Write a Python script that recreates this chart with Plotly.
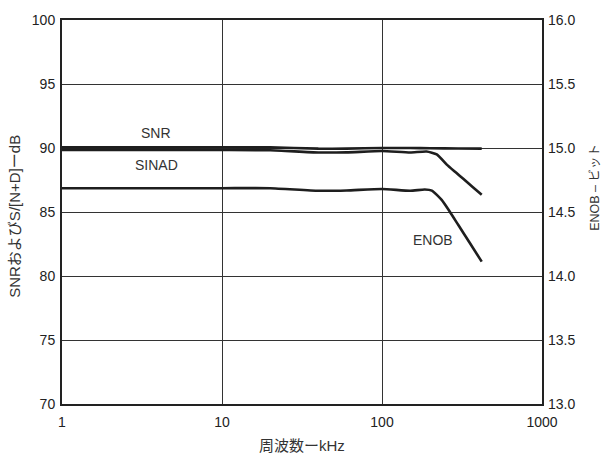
import plotly.graph_objects as go

# Frequency (kHz)
snr_f = [1, 5, 20, 40, 60, 100, 150, 200, 300, 420]
snr_db = [90.05, 90.05, 90.05, 89.95, 89.95, 90.0, 90.0, 89.98, 89.96, 89.95]

sinad_f = [1, 10, 20, 40, 60, 100, 150, 190, 220, 254, 290, 322, 370, 420]
sinad_db = [89.84, 89.84, 89.82, 89.65, 89.66, 89.76, 89.65, 89.72, 89.5, 88.7, 88.08, 87.59, 86.94, 86.35]

enob_f = [1, 10, 20, 40, 60, 100, 150, 185, 205, 236, 266, 300, 350, 420]
enob_bits = [14.686, 14.686, 14.686, 14.666, 14.668, 14.68, 14.666, 14.676, 14.667, 14.594, 14.5, 14.398, 14.267, 14.112]

x_ticks = [1, 10, 100, 1000]
y_left_ticks = [70, 75, 80, 85, 90, 95, 100]
y_right_ticks = [13.0, 13.5, 14.0, 14.5, 15.0, 15.5, 16.0]

line_style = dict(color="#1e1e1e", width=2.6, shape="spline", smoothing=0.5)
font_lat = "Liberation Sans, Arial, sans-serif"
font_jp = "Liberation Sans, Noto Sans CJK JP, sans-serif"

fig = go.Figure()
fig.add_trace(go.Scatter(x=snr_f, y=snr_db, mode="lines", line=line_style, name="SNR"))
fig.add_trace(go.Scatter(x=sinad_f, y=sinad_db, mode="lines", line=line_style, name="SINAD"))
fig.add_trace(go.Scatter(x=enob_f, y=enob_bits, mode="lines", line=line_style, name="ENOB", yaxis="y2"))

lab_font = dict(family=font_lat, size=14, color="#333")
fig.add_annotation(x=0.59, y=91.15, xref="x", yref="y", text="SNR", showarrow=False, font=lab_font)
fig.add_annotation(x=0.59, y=88.65, xref="x", yref="y", text="SINAD", showarrow=False, font=lab_font)
fig.add_annotation(x=2.32, y=82.85, xref="x", yref="y", text="ENOB", showarrow=False, font=lab_font)

# Axis titles
fig.add_annotation(x=0.5, y=-0.107, xref="paper", yref="paper", text="周波数ーkHz", showarrow=False,
                   xanchor="center", yanchor="middle",
                   font=dict(family=font_jp, size=15, color="#333"))
fig.add_annotation(x=-0.098, y=0.49, xref="paper", yref="paper", text="SNRおよびS/[N+D]ーdB", showarrow=False,
                   textangle=-90, xanchor="center", yanchor="middle",
                   font=dict(family=font_jp, size=15, color="#333"))
fig.add_annotation(x=1.11, y=0.565, xref="paper", yref="paper", text="ENOB – ビット", showarrow=False,
                   textangle=-90, xanchor="center", yanchor="middle",
                   font=dict(family=font_jp, size=12.5, color="#333"))

tick_font = dict(family=font_lat, size=14, color="#222")
axis_common = dict(showline=True, linecolor="#222", linewidth=2, mirror=True,
                   gridcolor="#333", gridwidth=1, zeroline=False, ticks="",
                   tickfont=tick_font)

fig.update_layout(
    width=605, height=454,
    margin=dict(l=62, r=63, t=20, b=50),
    paper_bgcolor="white", plot_bgcolor="white",
    showlegend=False,
    xaxis=dict(type="log", range=[0, 3], tickvals=x_ticks, ticktext=[str(v) for v in x_ticks],
               ticklabelstandoff=4, **axis_common),
    yaxis=dict(range=[70, 100], tickvals=y_left_ticks, ticklabelstandoff=2, **axis_common),
    yaxis2=dict(range=[13, 16], tickvals=y_right_ticks, tickformat=".1f", overlaying="y", side="right",
                showgrid=False, showline=False, zeroline=False, ticks="",
                ticklabelstandoff=5, tickfont=tick_font),
)

fig.write_html("out.html")
